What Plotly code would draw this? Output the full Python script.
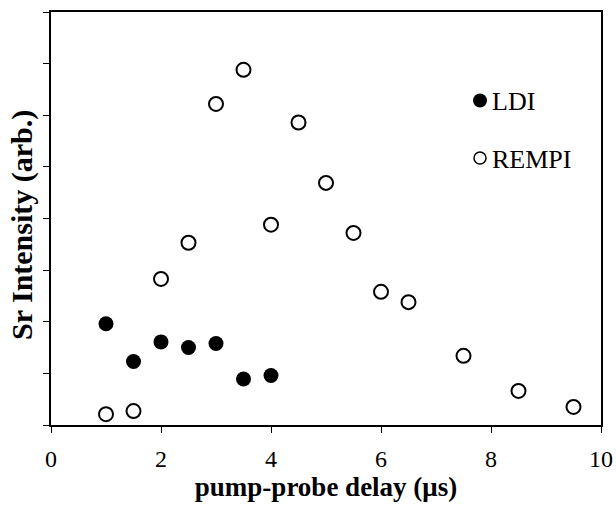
import plotly.graph_objects as go

delay_rempi = [1, 1.5, 2, 2.5, 3, 3.5, 4, 4.5, 5, 5.5, 6, 6.5, 7.5, 8.5, 9.5]
rempi = [0.21, 0.27, 2.83, 3.53, 6.22, 6.88, 3.88, 5.86, 4.69, 3.72, 2.58, 2.38, 1.34, 0.66, 0.35]

delay_ldi = [1, 1.5, 2, 2.5, 3, 3.5, 4]
ldi = [1.96, 1.23, 1.61, 1.50, 1.58, 0.89, 0.96]

x_ticks = [0, 2, 4, 6, 8, 10]
y_ticks = [0, 1, 2, 3, 4, 5, 6, 7, 8]

FONT = "Liberation Serif"

fig = go.Figure()
fig.add_trace(go.Scatter(
    x=delay_ldi, y=ldi, mode="markers", name="LDI",
    marker=dict(symbol="circle", size=15, color="black", line=dict(width=0)),
    showlegend=False,
))
fig.add_trace(go.Scatter(
    x=delay_rempi, y=rempi, mode="markers", name="REMPI",
    marker=dict(symbol="circle", size=14, color="white", line=dict(width=2, color="black")),
    showlegend=False,
))

L, R, T, B = 51, 15, 12, 83
W, H = 616, 508
pw, ph = W - L - R, H - T - B

def px(xp):
    return (xp - L) / pw

def py(yp):
    return (H - B - yp) / ph

# manual legend (symbols + text)
legend_items = [("LDI", 100.5, "black", 14, 0), ("REMPI", 158, "white", 12, 1.5)]
shapes = []
annotations = []
for label, ypix, fill, d, lw in legend_items:
    shapes.append(dict(
        type="circle", xref="paper", yref="paper", xsizemode="pixel", ysizemode="pixel",
        xanchor=px(480), yanchor=py(ypix), x0=-d / 2, x1=d / 2, y0=-d / 2, y1=d / 2,
        fillcolor=fill, line=dict(color="black", width=lw),
    ))
    annotations.append(dict(
        text=label, xref="paper", yref="paper", x=px(490), y=py(ypix + 1),
        xanchor="left", yanchor="middle", showarrow=False,
        font=dict(family=FONT, size=26, color="black"),
    ))

# y-axis title as rotated annotation for precise placement
annotations.append(dict(
    text="<b>Sr Intensity (arb.)</b>", xref="paper", yref="paper",
    x=px(22), y=py(225), xanchor="center", yanchor="middle", textangle=-90,
    showarrow=False, font=dict(family=FONT, size=30, color="black"),
))

fig.update_layout(
    width=W, height=H,
    margin=dict(l=L, r=R, t=T, b=B),
    paper_bgcolor="white", plot_bgcolor="white",
    font=dict(family=FONT, color="black"),
    shapes=shapes, annotations=annotations,
    xaxis=dict(
        range=[0, 10], tickvals=x_ticks, ticktext=[str(v) for v in x_ticks],
        ticks="outside", ticklen=6, tickwidth=1, tickcolor="black",
        showline=True, linecolor="black", linewidth=1.5, mirror=True,
        showgrid=False, zeroline=False, ticklabelstandoff=5,
        tickfont=dict(family=FONT, size=24, color="black"),
        title=dict(text="<b>pump-probe delay (μs)</b>", standoff=6,
                   font=dict(family=FONT, size=27, color="black")),
        automargin=False,
    ),
    yaxis=dict(
        range=[0, 8], tickvals=y_ticks, showticklabels=False,
        ticks="outside", ticklen=6, tickwidth=1, tickcolor="black",
        showline=True, linecolor="black", linewidth=1.5, mirror=True,
        showgrid=False, zeroline=False,
        automargin=False,
    ),
)

fig.write_html("out.html", config={"displayModeBar": False},
               post_script="document.body.style.margin='0';")
